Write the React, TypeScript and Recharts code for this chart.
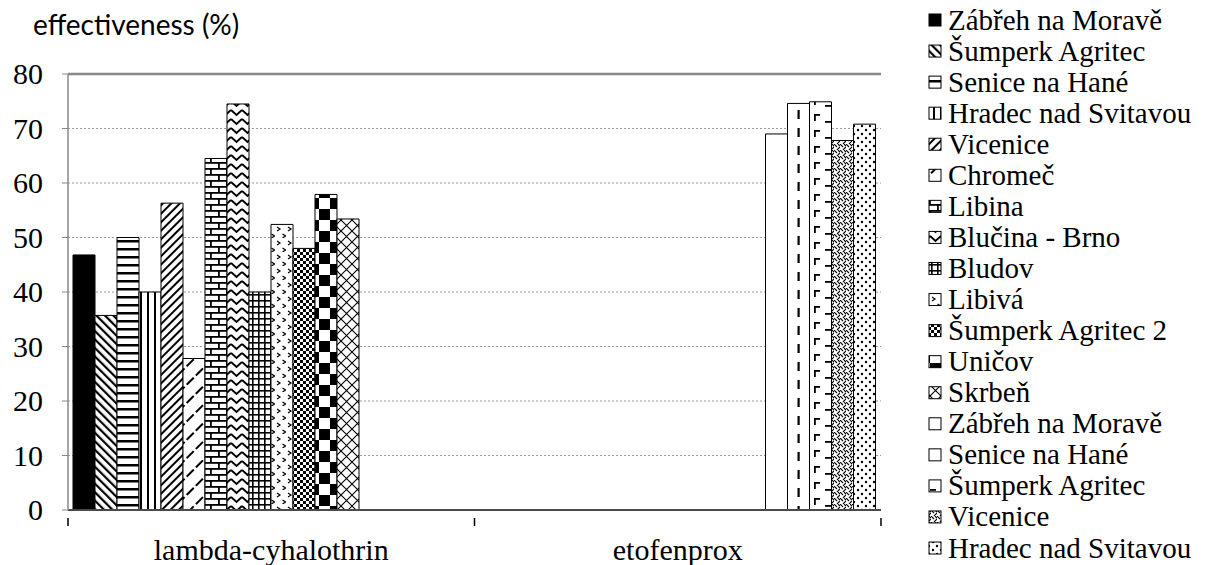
import React from 'react';
import { BarChart, Bar, XAxis, YAxis, CartesianGrid, ReferenceLine } from 'recharts';

const categories = ['lambda-cyhalothrin', 'etofenprox'];

const seriesNames = [
  'Zábřeh na Moravě',
  'Šumperk Agritec',
  'Senice na Hané',
  'Hradec nad Svitavou',
  'Vicenice',
  'Chromeč',
  'Libina',
  'Blučina - Brno',
  'Bludov',
  'Libivá',
  'Šumperk Agritec 2',
  'Uničov',
  'Skrbeň',
  'Zábřeh na Moravě',
  'Senice na Hané',
  'Šumperk Agritec',
  'Vicenice',
  'Hradec nad Svitavou',
];

// lambda-cyhalothrin values (first 13 series)
const lambdaValues = [46.8, 35.7, 50, 40, 56.3, 27.8, 64.5, 74.5, 40, 52.4, 48, 57.9, 53.4];
// etofenprox values (last 5 series)
const etofenproxValues = [69, 74.6, 74.9, 67.8, 70.8];

const yTicks = [0, 10, 20, 30, 40, 50, 60, 70, 80];

const data = categories.map((name, ci) => {
  const row: Record<string, any> = { name };
  seriesNames.forEach((_, i) => {
    if (ci === 0) row['s' + i] = i < lambdaValues.length ? lambdaValues[i] : null;
    else row['s' + i] = i >= lambdaValues.length ? etofenproxValues[i - lambdaValues.length] : null;
  });
  return row;
});

const serif = '"Liberation Serif", "Times New Roman", Times, "Nimbus Roman", "DejaVu Serif", serif';

function Patterns({ prefix }: { prefix: string }) {
  const id = (n: number) => `${prefix}${n}`;
  return (
    <defs>
      <pattern id={id(1)} width="6" height="6" patternUnits="userSpaceOnUse" patternTransform="rotate(-45)">
        <rect width="6" height="6" fill="#fff" />
        <rect width="2.2" height="6" fill="#000" />
      </pattern>
      <pattern id={id(2)} width="8" height="8" patternUnits="userSpaceOnUse">
        <rect width="8" height="8" fill="#fff" />
        <rect y="0" width="8" height="2.5" fill="#000" />
      </pattern>
      <pattern id={id(3)} width="7" height="7" patternUnits="userSpaceOnUse">
        <rect width="7" height="7" fill="#fff" />
        <rect x="0" width="2" height="7" fill="#000" />
      </pattern>
      <pattern id={id(4)} width="6" height="6" patternUnits="userSpaceOnUse" patternTransform="rotate(45)">
        <rect width="6" height="6" fill="#fff" />
        <rect width="2" height="6" fill="#000" />
      </pattern>
      <pattern id={id(5)} width="13" height="13" patternUnits="userSpaceOnUse" patternTransform="rotate(45)">
        <rect width="13" height="13" fill="#fff" />
        <rect width="2" height="10" fill="#000" />
      </pattern>
      <pattern id={id(6)} width="16" height="12" patternUnits="userSpaceOnUse">
        <rect width="16" height="12" fill="#fff" />
        <rect y="0" width="16" height="1.8" fill="#000" />
        <rect y="6" width="16" height="1.8" fill="#000" />
        <rect x="2" y="0" width="1.8" height="6" fill="#000" />
        <rect x="10" y="6" width="1.8" height="6" fill="#000" />
      </pattern>
      <pattern id={id(7)} width="11" height="9" patternUnits="userSpaceOnUse">
        <rect width="11" height="9" fill="#fff" />
        <polyline points="0,2 5.5,7 11,2" fill="none" stroke="#000" strokeWidth="2" />
      </pattern>
      <pattern id={id(8)} width="6" height="6" patternUnits="userSpaceOnUse">
        <rect width="6" height="6" fill="#fff" />
        <rect y="0" width="6" height="1.6" fill="#000" />
        <rect x="0" width="1.6" height="6" fill="#000" />
      </pattern>
      <pattern id={id(9)} width="11" height="14" patternUnits="userSpaceOnUse">
        <rect width="11" height="14" fill="#fff" />
        <polyline points="2,3 5,5 2,7" fill="none" stroke="#000" strokeWidth="1.2" />
        <polyline points="7.5,10 10.5,12 7.5,14" fill="none" stroke="#000" strokeWidth="1.2" />
      </pattern>
      <pattern id={id(10)} width="6" height="6" patternUnits="userSpaceOnUse">
        <rect width="6" height="6" fill="#fff" />
        <rect width="3" height="3" fill="#000" />
        <rect x="3" y="3" width="3" height="3" fill="#000" />
      </pattern>
      <pattern id={id(11)} width="22" height="22" patternUnits="userSpaceOnUse">
        <rect width="22" height="22" fill="#fff" />
        <rect width="11" height="11" fill="#000" />
        <rect x="11" y="11" width="11" height="11" fill="#000" />
      </pattern>
      <pattern id={id(12)} width="11" height="11" patternUnits="userSpaceOnUse">
        <rect width="11" height="11" fill="#fff" />
        <path d="M0,0 L11,11 M11,0 L0,11" stroke="#000" strokeWidth="1.1" />
      </pattern>
      <pattern id={id(14)} width="22" height="18" patternUnits="userSpaceOnUse">
        <rect width="22" height="18" fill="#fff" />
        <rect x="5.5" y="2" width="2.2" height="9" fill="#000" />
      </pattern>
      <pattern id={id(15)} width="22" height="16" patternUnits="userSpaceOnUse">
        <rect width="22" height="16" fill="#fff" />
        <rect x="0" y="2" width="6" height="1.8" fill="#000" />
        <rect x="0" y="2" width="1.8" height="7" fill="#000" />
        <rect x="11" y="9" width="6" height="1.8" fill="#000" />
      </pattern>
      <pattern id={id(16)} width="6" height="6" patternUnits="userSpaceOnUse">
        <rect width="6" height="6" fill="#fff" />
        <path d="M0,0 L3,3 M3,6 L6,3 M4,0 L6,2" stroke="#000" strokeWidth="1.1" />
      </pattern>
      <pattern id={id(17)} width="8" height="8" patternUnits="userSpaceOnUse">
        <rect width="8" height="8" fill="#fff" />
        <circle cx="2" cy="2" r="1.2" fill="#000" />
        <circle cx="6" cy="6" r="1.2" fill="#000" />
      </pattern>
    </defs>
  );
}

function fillFor(prefix: string, i: number) {
  if (i === 0) return '#000';
  if (i === 13) return '#fff';
  return `url(#${prefix}${i})`;
}

function CategoryTick(props: any) {
  const { x, y, payload, index, visibleTicksCount } = props;
  const half = payload && payload.offset ? payload.offset : 0;
  return (
    <g>
      <line x1={x - half} x2={x - half} y1={y} y2={y + 8} stroke="#000" strokeWidth={1.5} />
      {index === (visibleTicksCount ?? 2) - 1 && (
        <line x1={x + half} x2={x + half} y1={y} y2={y + 8} stroke="#000" strokeWidth={1.5} />
      )}
      <text x={x} y={y + 42} textAnchor="middle" style={{ fontFamily: serif, fontSize: 30 }} fill="#000">
        {payload.value}
      </text>
    </g>
  );
}

function YTick(props: any) {
  const { x, y, payload } = props;
  return (
    <text x={x} y={y + 10} textAnchor="end" style={{ fontFamily: serif, fontSize: 30 }} fill="#000">
      {payload.value}
    </text>
  );
}

function LegendBox() {
  return (
    <svg width={290} height={565} style={{ position: 'absolute', left: 919, top: 0 }}>
      <Patterns prefix="lp" />
      {seriesNames.map((name, i) => {
        const cy = 20 + i * 31.06;
        return (
          <g key={i}>
            <rect x={10} y={cy - 6} width={12} height={12} fill={fillFor('lp', i)} stroke="#000" strokeWidth={1} />
            <text x={29} y={cy + 9.5} style={{ fontFamily: serif, fontSize: 29 }} fill="#000">
              {name}
            </text>
          </g>
        );
      })}
    </svg>
  );
}

export default function App() {
  return (
    <div style={{ position: 'absolute', left: 0, top: 0, width: 1209, height: 565, background: '#fff' }}>
      <div
        style={{
          position: 'absolute',
          left: 33,
          top: 8,
          fontFamily: 'Lato, "Liberation Sans", sans-serif',
          fontSize: 28,
          lineHeight: '32px',
          color: '#000',
          whiteSpace: 'nowrap',
        }}
      >
        effectiveness (%)
      </div>
      <BarChart
        width={1209}
        height={565}
        data={data}
        margin={{ top: 74, right: 328, left: 0, bottom: 0 }}
        barCategoryGap={5}
        barGap={0}
      >
        <Patterns prefix="bp" />
        <CartesianGrid vertical={false} stroke="#9a9a9a" strokeDasharray="2 2" />
        <XAxis
          dataKey="name"
          height={55}
          tickLine={false}
          axisLine={{ stroke: '#4a4a4a', strokeWidth: 2 }}
          tick={<CategoryTick />}
          interval={0}
        />
        <YAxis
          width={68}
          domain={[0, 80]}
          ticks={yTicks}
          interval={0}
          tickSize={6}
          tickMargin={19}
          axisLine={{ stroke: '#888', strokeWidth: 1.5 }}
          tickLine={{ stroke: '#888' }}
          tick={<YTick />}
        />
        <YAxis yAxisId="r" orientation="right" width={0} tick={false} tickLine={false} axisLine={{ stroke: '#888', strokeWidth: 2.5 }} />
        <ReferenceLine y={80} stroke="#888" strokeWidth={2.5} />
        {seriesNames.map((name, i) => (
          <Bar
            key={i}
            dataKey={'s' + i}
            name={name}
            fill={fillFor('bp', i)}
            stroke="#000"
            strokeWidth={1}
            isAnimationActive={false}
          />
        ))}
      </BarChart>
      <LegendBox />
    </div>
  );
}
